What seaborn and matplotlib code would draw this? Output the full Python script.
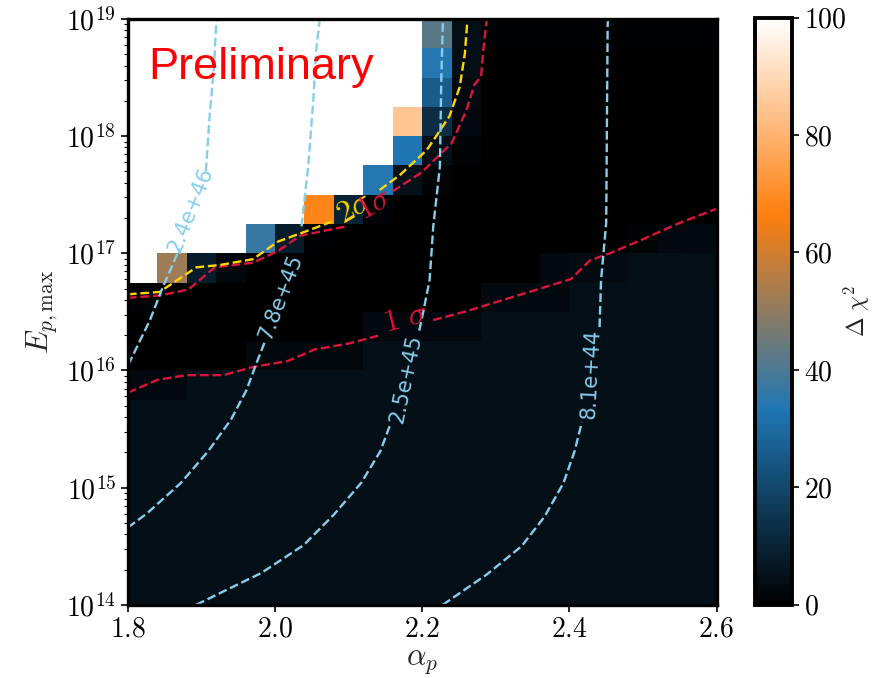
import numpy as np
import matplotlib
matplotlib.use("Agg")
import matplotlib.pyplot as plt
import seaborn as sns

# grid of the scan: cell edges
alpha_edges = [1.80, 1.84, 1.88, 1.92, 1.96, 2.00, 2.04, 2.08, 2.12, 2.16, 2.20,
               2.24, 2.28, 2.32, 2.36, 2.40, 2.44, 2.48, 2.52, 2.56, 2.60]
log_e_edges = [14.0, 14.25, 14.5, 14.75, 15.0, 15.25, 15.5, 15.75, 16.0, 16.25, 16.5,
               16.75, 17.0, 17.25, 17.5, 17.75, 18.0, 18.25, 18.5, 18.75, 19.0]

W = 100.0  # saturated
# delta chi^2, rows from the top (log E = 19) down to log E = 14, columns alpha 1.80 -> 2.60
dchi2_rows = [
    [W, W, W, W, W, W, W, W, W, W, 42, 4.0, .5, .5, .5, .5, .5, .5, .5, .5],
    [W, W, W, W, W, W, W, W, W, W, 34, 4.0, .3, .3, .3, .3, .3, .3, .3, .3],
    [W, W, W, W, W, W, W, W, W, W, 26, 3.0, .3, .3, .3, .3, .3, .3, .3, .3],
    [W, W, W, W, W, W, W, W, W, 85, 12.5, 2.5, .2, .2, .2, .2, .2, .2, .2, .2],
    [W, W, W, W, W, W, W, W, W, 33, 4.5, 1.0, .2, .2, .2, .2, .2, .2, .2, .2],
    [W, W, W, W, W, W, W, W, 34, 5.0, 1.0, .2, .2, .2, .2, .2, .2, .2, .2, .2],
    [W, W, W, W, W, W, 68, 10, 1.5, .2, .2, .2, .2, .2, .2, .2, .2, .2, .2, .2],
    [W, W, W, W, 37, 8.0, .5, .3, .3, .3, .3, .3, .3, .3, .3, .3, .3, 1.0, 2.5, 3.0],
    [W, 52, 8.0, 2.0, .3, .3, .3, .3, .3, .3, .3, .3, .3, .3, 2.5, 3.5, 3.5, 4.2, 4.2, 4.2],
    [1.0, .3, .3, .3, .3, .3, .3, .3, .3, .3, .3, .3, 3.0, 3.0, 3.0, 4.3, 4.3, 4.3, 4.3, 4.3],
    [.3, .3, .3, .3, .3, .3, .3, .3, 2.5, 2.5, 2.5, 2.5, 4.3, 4.3, 4.3, 4.3, 4.3, 4.3, 4.3, 4.3],
    [.3, .3, .3, .3, 2.0, 2.0, 2.0, 2.0, 4.3, 4.3, 4.3, 4.3, 4.3, 4.3, 4.3, 4.3, 4.3, 4.3, 4.3, 4.3],
    [2.5, 2.5, 4.3, 4.3, 4.3, 4.3, 4.3, 4.3, 4.3, 4.3, 4.3, 4.3, 4.3, 4.3, 4.3, 4.3, 4.3, 4.3, 4.3, 4.3],
    [4.3] * 20,
    [4.3] * 20,
    [4.3] * 20,
    [4.3] * 20,
    [4.3] * 20,
    [4.3] * 20,
    [4.3] * 20,
]

# contour lines: (alpha, log10 E) pairs, split where the label sits
sig1_low_a = [1.80, 1.84, 1.88, 1.93, 1.97, 2.017, 2.054, 2.10, 2.142]
sig1_low_e = [15.81, 15.92, 15.96, 15.96, 16.03, 16.08, 16.18, 16.23, 16.30]
sig1_low2_a = [2.215, 2.257, 2.309, 2.361, 2.402, 2.428, 2.455, 2.50, 2.55, 2.60]
sig1_low2_e = [16.43, 16.50, 16.60, 16.70, 16.78, 16.94, 17.00, 17.12, 17.26, 17.38]

sig1_up_a = [1.80, 1.843, 1.882, 1.918, 1.970, 2.004, 2.034, 2.097]
sig1_up_e = [16.62, 16.64, 16.69, 16.88, 16.92, 17.02, 17.15, 17.23]
sig1_up2_a = [2.160, 2.199, 2.240, 2.260, 2.271, 2.280, 2.283, 2.287, 2.288]
sig1_up2_e = [17.53, 17.69, 17.94, 18.22, 18.44, 18.51, 18.74, 18.96, 19.0]

sig2_a = [1.80, 1.843, 1.893, 1.925, 1.970, 2.004, 2.043, 2.081]
sig2_e = [16.65, 16.67, 16.88, 16.90, 16.95, 17.10, 17.19, 17.28]
sig2b_a = [2.142, 2.170, 2.206, 2.219, 2.237, 2.251, 2.258, 2.261, 2.262]
sig2b_e = [17.54, 17.67, 17.88, 18.0, 18.17, 18.42, 18.71, 18.96, 19.0]

lum_levels = ["2.4e+46", "7.8e+45", "2.5e+45", "8.1e+44"]
lum_a = [
    ([1.80, 1.803, 1.83, 1.848, 1.862, 1.870], [1.906, 1.911, 1.917, 1.92, 1.921]),
    ([1.80, 1.826, 1.872, 1.909, 1.94, 1.961, 1.974, 1.987], [2.036, 2.045, 2.052, 2.056, 2.06, 2.061]),
    ([1.893, 1.935, 1.981, 2.039, 2.080, 2.117, 2.143, 2.156], [2.196, 2.202, 2.21, 2.215, 2.224, 2.226, 2.228, 2.229]),
    ([2.228, 2.288, 2.335, 2.366, 2.392, 2.407, 2.417], [2.441, 2.443, 2.45, 2.452, 2.453]),
]
lum_e = [
    ([16.05, 16.08, 16.43, 16.72, 16.92, 17.04], [17.70, 18.17, 18.59, 18.96, 19.0]),
    ([14.66, 14.78, 15.04, 15.31, 15.58, 15.83, 16.05, 16.26], [17.23, 17.74, 18.31, 18.74, 18.96, 19.0]),
    ([14.0, 14.13, 14.27, 14.51, 14.77, 15.04, 15.31, 15.53], [16.34, 16.52, 16.77, 17.23, 17.74, 18.51, 18.96, 19.0]),
    ([14.0, 14.26, 14.50, 14.75, 15.04, 15.31, 15.56], [16.37, 16.77, 17.26, 18.96, 19.0]),
]
# label anchor (alpha, log10 E) and angle
lum_lab_a = [1.886, 2.008, 2.178, 2.430]
lum_lab_e = [17.37, 16.63, 15.93, 15.97]
lum_lab_rot = [68, 69, 78, 87]

sns.set_style("ticks")
plt.rcParams["font.family"] = "serif"
plt.rcParams["font.serif"] = ["cmr10", "DejaVu Serif"]
plt.rcParams["mathtext.fontset"] = "cm"
plt.rcParams["axes.formatter.use_mathtext"] = True
plt.rcParams["axes.unicode_minus"] = False
plt.rcParams["axes.edgecolor"] = "black"
plt.rcParams["xtick.color"] = "black"
plt.rcParams["ytick.color"] = "black"

cmap = sns.blend_palette(["black", "#1f77b4", "#ff7f0e", "white"], as_cmap=True)

fig = plt.figure(figsize=(8.76, 6.78), dpi=100)
ax = fig.add_axes([0.146, 0.108, 0.672, 0.864])
cax = fig.add_axes([0.862, 0.108, 0.042, 0.866])

z = np.array(dchi2_rows)[::-1]
e_edges = 10.0 ** np.array(log_e_edges)
mesh = ax.pcolormesh(alpha_edges, e_edges, z, cmap=cmap, vmin=0, vmax=100, shading="flat")
ax.set_yscale("log")

dash = (0, (3.7, 1.6))
lw = 1.7
for a_list, e_list in [(sig1_low_a, sig1_low_e), (sig1_low2_a, sig1_low2_e),
                       (sig1_up_a, sig1_up_e), (sig1_up2_a, sig1_up2_e)]:
    ax.plot(a_list, 10.0 ** np.array(e_list), color="crimson", lw=lw, ls=dash)
for a_list, e_list in [(sig2_a, sig2_e), (sig2b_a, sig2b_e)]:
    ax.plot(a_list, 10.0 ** np.array(e_list), color="gold", lw=lw, ls=dash)

for k in range(len(lum_levels)):
    for seg_a, seg_e in zip(lum_a[k], lum_e[k]):
        ax.plot(seg_a, 10.0 ** np.array(seg_e), color="skyblue", lw=lw, ls=dash)
    ax.text(lum_lab_a[k], 10.0 ** lum_lab_e[k], lum_levels[k], color="skyblue",
            fontsize=15, family="DejaVu Sans", rotation=lum_lab_rot[k],
            ha="center", va="center", rotation_mode="anchor")

ax.text(2.178, 10.0 ** 16.44, r"$1\ \sigma$", color="crimson", fontsize=23,
        rotation=14, ha="center", va="center", rotation_mode="anchor")
ax.text(2.108, 10.0 ** 17.38, r"$2\sigma$", color="gold", fontsize=23,
        rotation=30, ha="center", va="center", rotation_mode="anchor")
ax.text(2.136, 10.0 ** 17.42, r"$1\sigma$", color="crimson", fontsize=23,
        rotation=30, ha="center", va="center", rotation_mode="anchor")

ax.text(0.035, 0.918, "Preliminary", transform=ax.transAxes, color="red",
        fontsize=32.5, family="Liberation Sans", ha="left", va="center")

ax.set_xlim(1.8, 2.6)
ax.set_ylim(1e14, 1e19)
ax.set_xticks([1.8, 2.0, 2.2, 2.4, 2.6])
ax.set_xlabel(r"$\alpha_p$", fontsize=22)
ax.set_ylabel(r"$E_{p,\max}$", fontsize=22, labelpad=4)
ax.tick_params(axis="both", which="major", labelsize=20, direction="out", length=5, width=1.2)
ax.tick_params(axis="y", which="minor", direction="out", length=3, width=0.8)
for s in ax.spines.values():
    s.set_linewidth(2.4)

cbar = fig.colorbar(mesh, cax=cax)
cbar.set_ticks([0, 20, 40, 60, 80, 100])
cbar.ax.tick_params(labelsize=20, length=5, width=1.2)
cbar.outline.set_linewidth(2.8)
cbar.set_label(r"$\Delta\ \chi^2$", fontsize=17, labelpad=-3)

fig.savefig("out.png", dpi=100)
